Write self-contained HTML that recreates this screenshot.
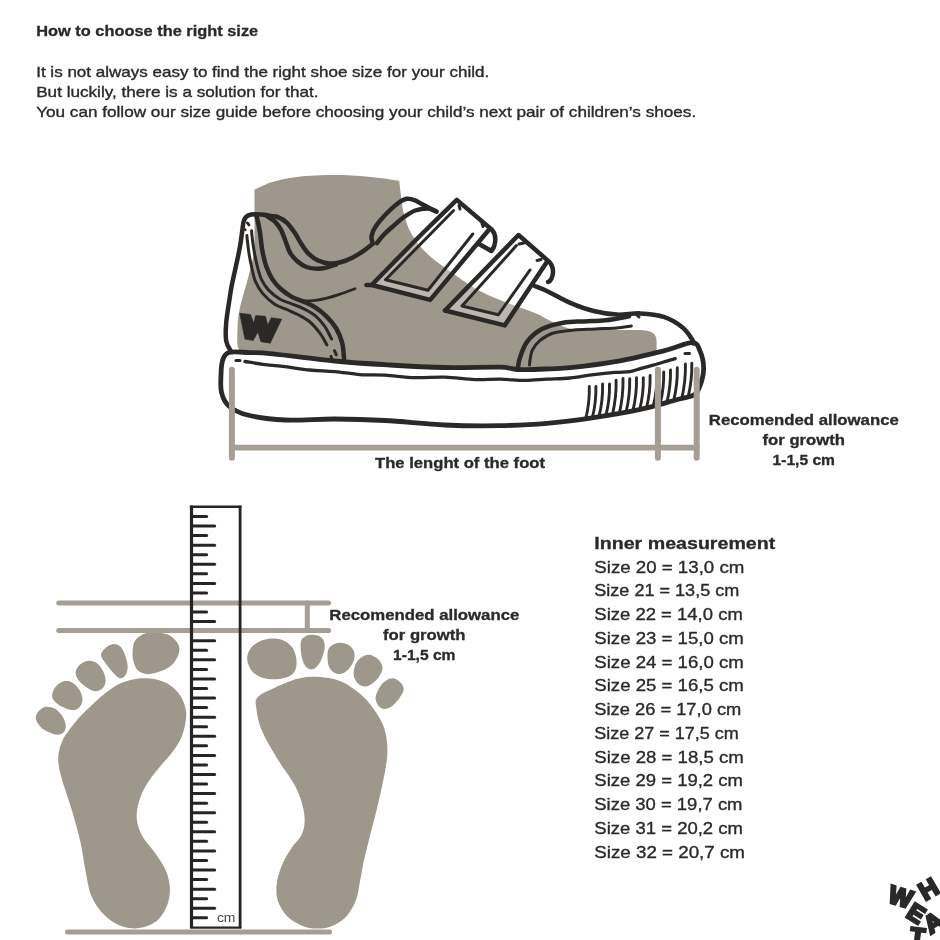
<!DOCTYPE html>
<html><head><meta charset="utf-8"><title>How to choose the right size</title>
<style>
html,body{margin:0;padding:0;background:#fff;}
body{width:940px;height:940px;overflow:hidden;font-family:"Liberation Sans",sans-serif;}
svg{display:block;position:absolute;left:0;top:0;font-family:"Liberation Sans",sans-serif;}
</style></head><body>
<svg width="940" height="940" viewBox="0 0 940 940">
<rect width="940" height="940" fill="#fff"/>
<g id="shoe">
<path d="M254.5,246 L254.5,189.6 C256.0,188.9 260.0,186.8 263.4,185.4C266.8,184.0 269.2,182.6 275.1,181.2C281.0,179.8 288.7,177.7 298.5,176.7C308.3,175.7 322.0,175.1 333.7,175.1C345.4,175.1 357.9,175.8 368.8,176.7C379.7,177.6 394.1,180.0 399.2,180.7 L399.6,184 C399.9,186.7 400.9,195.0 401.6,200.0C402.3,205.0 402.3,208.7 403.9,214.2C405.5,219.7 407.5,226.7 411.0,232.9C414.5,239.1 419.2,245.7 425.0,251.6C430.8,257.5 437.0,262.0 446.0,268.5C455.0,275.0 468.5,284.7 479.0,290.5C489.5,296.3 499.7,299.8 509.0,303.5C518.3,307.2 527.7,309.9 535.0,313.0C542.3,316.1 546.8,319.3 553.0,322.0C559.2,324.7 564.2,327.7 572.0,329.0C579.8,330.3 588.7,329.8 600.0,330.0C611.3,330.2 633.3,330.0 640.0,330.0 Q656.6,330 656.6,341 L656.6,352 C650.0,353.6 631.4,358.7 617.0,361.3C602.6,363.9 586.6,366.2 570.2,367.6C553.8,369.0 532.9,369.6 518.7,369.6C504.5,369.6 497.3,367.9 485.0,367.5C472.7,367.1 468.3,368.2 445.0,367.0C421.7,365.8 371.7,362.0 345.0,360.0C318.3,358.0 302.5,356.5 285.0,355.0C267.5,353.5 247.5,351.7 240.0,351.0C239.6,350.0 237.9,348.5 237.5,345.0C237.1,341.5 237.2,335.8 237.5,330.0C237.8,324.2 237.8,318.3 239.5,310.0C241.2,301.7 245.3,288.3 247.5,280.0C249.7,271.7 251.3,265.7 252.5,260.0C253.7,254.3 254.2,248.3 254.5,246.0Z" fill="#9e978b"/>
<path d="M228.8,352.5C233.3,351.1 242.7,352.4 250.0,352.6C257.3,352.8 258.3,352.4 272.5,353.8C286.7,355.1 315.4,359.1 335.0,361.0C354.6,362.9 371.7,363.9 390.0,365.0C408.3,366.1 426.7,367.1 445.0,367.5C463.3,367.9 487.7,366.8 500.0,367.2C512.3,367.6 511.2,369.3 518.7,369.6C526.2,369.9 536.4,369.3 545.0,369.0C553.6,368.7 558.2,368.9 570.2,367.6C582.2,366.3 601.4,364.1 617.0,361.3C632.6,358.5 651.3,353.9 663.8,350.8C676.3,347.7 685.9,342.7 691.9,342.7C697.9,342.7 698.0,346.4 700.0,350.9C702.0,355.4 703.8,363.4 703.6,369.6C703.4,375.8 700.8,384.0 699.0,388.3C697.2,392.6 696.9,393.4 693.0,395.3C689.1,397.2 684.3,397.6 675.5,400.0C666.7,402.4 654.0,406.5 640.4,409.4C626.8,412.3 609.2,415.3 593.6,417.6C578.0,419.9 562.4,422.0 546.8,423.4C531.2,424.8 517.0,425.4 500.0,425.7C483.0,426.0 464.2,425.9 445.0,425.0C425.8,424.1 403.3,421.5 385.0,420.5C366.7,419.5 351.7,419.1 335.0,419.0C318.3,418.9 299.6,420.7 285.0,420.0C270.4,419.3 256.9,417.3 247.5,415.0C238.1,412.7 233.1,409.8 228.8,406.0C224.4,402.2 222.8,397.7 221.5,392.5C220.2,387.3 220.8,380.2 221.0,375.0C221.2,369.8 221.2,364.8 222.5,361.0C223.8,357.2 224.2,353.9 228.8,352.5Z" fill="#fff" stroke="#2b2928" stroke-width="4.8" stroke-linejoin="round"/>
<path d="M245.0,361.5C248.3,362.0 258.3,363.8 265.0,364.6C271.7,365.5 277.5,365.7 285.0,366.6C292.5,367.5 301.7,369.2 310.0,370.0C318.3,370.8 326.7,370.8 335.0,371.6C343.3,372.4 351.7,374.0 360.0,374.6C368.3,375.2 375.8,374.7 385.0,375.2C394.2,375.7 405.0,377.3 415.0,377.6C425.0,377.9 435.0,376.9 445.0,377.2C455.0,377.5 465.8,379.3 475.0,379.6C484.2,379.9 491.7,379.1 500.0,379.2C508.3,379.3 517.2,380.4 525.0,380.4C532.8,380.4 539.3,379.6 546.8,379.2C554.3,378.8 562.2,378.8 570.0,378.0C577.8,377.2 586.1,375.5 593.6,374.6C601.1,373.7 608.9,372.9 615.0,372.4C621.1,371.9 625.8,372.2 630.0,371.6C634.2,371.0 636.5,369.7 640.3,368.6C644.1,367.5 648.7,366.4 653.0,365.2C657.3,364.0 662.2,362.5 665.9,361.4C669.6,360.3 673.7,359.1 675.2,358.6" fill="none" stroke="#2b2928" stroke-width="3.3" stroke-linecap="round" stroke-linejoin="round" />
<path d="M236,360.6L240,360.6" fill="none" stroke="#2b2928" stroke-width="3" stroke-linecap="round" stroke-linejoin="round" />
<path d="M685,353.6L689.5,353.4" fill="none" stroke="#2b2928" stroke-width="3" stroke-linecap="round" stroke-linejoin="round" />
<path d="M589.3,386.4 Q589.7,402.6 585.7,418.9" fill="none" stroke="#2b2928" stroke-width="2.9" stroke-linecap="round" stroke-linejoin="round" />
<path d="M595.9,386.4 Q596.3,402.1 592.3,417.8" fill="none" stroke="#2b2928" stroke-width="2.9" stroke-linecap="round" stroke-linejoin="round" />
<path d="M602.6,384.0 Q603.0,400.3 599.0,416.7" fill="none" stroke="#2b2928" stroke-width="2.9" stroke-linecap="round" stroke-linejoin="round" />
<path d="M609.5,384.0 Q609.9,399.7 605.9,415.4" fill="none" stroke="#2b2928" stroke-width="2.9" stroke-linecap="round" stroke-linejoin="round" />
<path d="M616.1,380.3 Q616.5,397.3 612.5,414.3" fill="none" stroke="#2b2928" stroke-width="2.9" stroke-linecap="round" stroke-linejoin="round" />
<path d="M623.0,378.4 Q623.4,395.7 619.4,413.1" fill="none" stroke="#2b2928" stroke-width="2.9" stroke-linecap="round" stroke-linejoin="round" />
<path d="M629.7,378.6 Q630.1,395.3 626.1,411.9" fill="none" stroke="#2b2928" stroke-width="2.9" stroke-linecap="round" stroke-linejoin="round" />
<path d="M636.5,377.6 Q636.9,394.2 632.9,410.7" fill="none" stroke="#2b2928" stroke-width="2.9" stroke-linecap="round" stroke-linejoin="round" />
<path d="M643.3,377.6 Q643.7,393.6 639.7,409.5" fill="none" stroke="#2b2928" stroke-width="2.9" stroke-linecap="round" stroke-linejoin="round" />
<path d="M650.1,375.4 Q650.5,391.6 646.5,407.8" fill="none" stroke="#2b2928" stroke-width="2.9" stroke-linecap="round" stroke-linejoin="round" />
<path d="M656.9,373.8 Q657.3,389.9 653.3,405.9" fill="none" stroke="#2b2928" stroke-width="2.9" stroke-linecap="round" stroke-linejoin="round" />
<path d="M663.7,372.0 Q664.1,388.1 660.1,404.1" fill="none" stroke="#2b2928" stroke-width="2.9" stroke-linecap="round" stroke-linejoin="round" />
<path d="M670.5,369.9 Q670.9,386.1 666.9,402.3" fill="none" stroke="#2b2928" stroke-width="2.9" stroke-linecap="round" stroke-linejoin="round" />
<path d="M677.3,367.8 Q677.7,384.1 673.7,400.5" fill="none" stroke="#2b2928" stroke-width="2.9" stroke-linecap="round" stroke-linejoin="round" />
<path d="M685.4,363.9 Q685.8,381.1 681.8,398.3" fill="none" stroke="#2b2928" stroke-width="2.9" stroke-linecap="round" stroke-linejoin="round" />
<path d="M691.8,363.1 Q692.2,379.8 688.2,396.6" fill="none" stroke="#2b2928" stroke-width="2.9" stroke-linecap="round" stroke-linejoin="round" />
<path d="M231.9,369.8 L231.9,457.7" fill="none" stroke="#a49e95" stroke-width="6.0" stroke-linecap="round" stroke-linejoin="round" />
<path d="M657.9,369.8 L657.9,457.7" fill="none" stroke="#a49e95" stroke-width="6.0" stroke-linecap="round" stroke-linejoin="round" />
<path d="M696.7,369.8 L696.7,457.7" fill="none" stroke="#a49e95" stroke-width="6.0" stroke-linecap="round" stroke-linejoin="round" />
<path d="M231.9,447.6 L696.7,447.6" fill="none" stroke="#a49e95" stroke-width="5.8" stroke-linecap="round" stroke-linejoin="round" />
<path d="M231.0,351.5C230.2,349.8 227.0,345.8 226.2,341.0C225.4,336.2 225.6,330.5 226.2,323.0C226.8,315.5 229.1,302.3 230.0,296.0C230.9,289.7 230.8,290.2 231.8,285.0C232.9,279.8 234.9,271.1 236.3,264.6C237.7,258.1 239.1,251.6 240.1,245.9C241.1,240.2 241.7,234.5 242.3,230.5C242.9,226.5 242.9,224.3 243.5,222.0C244.1,219.7 244.8,218.2 246.1,216.9C247.4,215.6 248.5,214.8 251.2,214.4C253.9,214.0 258.8,214.3 262.3,214.6C265.9,214.9 270.8,216.0 272.5,216.3" fill="none" stroke="#2b2928" stroke-width="4.5" stroke-linecap="round" stroke-linejoin="round" />
<path d="M272.5,216.3C273.3,216.4 275.0,215.9 277.4,216.9C279.8,217.9 283.8,219.9 286.7,222.6C289.6,225.3 292.4,229.4 294.9,233.1C297.4,236.8 299.5,241.3 301.9,244.8C304.2,248.3 306.3,251.6 309.0,254.2C311.7,256.8 315.0,259.1 318.3,260.6C321.6,262.2 325.2,263.2 328.9,263.5C332.6,263.8 336.7,263.3 340.6,262.3C344.5,261.3 348.4,259.6 352.3,257.7C356.2,255.8 360.6,252.9 364.0,250.6C367.4,248.3 371.3,244.9 372.8,243.8" fill="none" stroke="#2b2928" stroke-width="4.5" stroke-linecap="round" stroke-linejoin="round" />
<path d="M266.0,215.2C266.7,215.7 268.5,217.1 270.0,218.2C271.5,219.3 273.2,219.7 275.0,221.6C276.8,223.5 279.1,226.3 280.9,229.6C282.7,232.9 284.1,237.4 285.6,241.3C287.2,245.2 288.2,249.7 290.2,253.0C292.1,256.3 294.6,258.9 297.3,261.2C300.0,263.5 303.3,265.7 306.6,267.0C309.9,268.3 313.9,268.7 317.2,268.8C320.5,268.9 323.4,268.3 326.5,267.6C329.6,266.9 334.4,265.0 336.0,264.5" fill="none" stroke="#2b2928" stroke-width="4.5" stroke-linecap="round" stroke-linejoin="round" />
<path d="M255.5,214.5C255.7,214.8 256.0,213.7 256.7,216.6C257.4,219.5 258.9,226.2 259.9,231.9C260.8,237.6 261.3,245.2 262.4,251.0C263.5,256.9 264.8,262.3 266.5,267.0C268.2,271.7 270.2,275.8 272.5,279.4C274.8,283.0 277.1,285.6 280.3,288.5C283.5,291.4 287.9,294.7 291.8,296.9C295.7,299.1 299.6,299.9 303.5,301.6C307.4,303.4 311.3,304.9 315.2,307.4C319.1,309.9 323.4,313.3 326.9,316.8C330.4,320.3 333.8,324.2 336.3,328.5C338.8,332.8 340.8,337.9 342.1,342.6C343.4,347.3 343.6,353.9 343.9,356.6C344.2,359.3 344.0,358.6 344.0,359.0" fill="none" stroke="#2b2928" stroke-width="4.5" stroke-linecap="round" stroke-linejoin="round" />
<path d="M246.9,235.5C247.0,236.2 247.0,237.0 247.3,240.0C247.7,243.0 248.2,248.5 249.0,253.6C249.8,258.7 251.3,265.8 252.4,270.5C253.5,275.2 253.8,277.9 255.5,281.7C257.2,285.5 259.5,289.7 262.6,293.4C265.7,297.1 270.4,301.3 274.3,303.9C278.2,306.5 282.1,307.4 286.0,309.2C289.9,311.0 293.8,312.4 297.7,314.5C301.6,316.6 305.7,318.4 309.4,321.5C313.1,324.6 317.0,329.3 319.9,333.2C322.8,337.1 325.7,342.9 326.9,344.9" fill="none" stroke="#2b2928" stroke-width="3.0" stroke-linecap="round" stroke-linejoin="round" />
<path d="M251.6,230.8C251.7,231.5 251.5,231.6 251.9,235.0C252.3,238.4 253.1,245.3 254.1,251.0C255.1,256.7 256.8,264.3 258.0,269.0C259.2,273.7 259.7,275.9 261.4,279.4C263.1,282.9 265.3,286.6 268.4,289.9C271.5,293.2 276.2,297.0 280.1,299.3C284.0,301.6 287.9,302.3 291.8,303.9C295.7,305.4 299.6,306.7 303.5,308.6C307.4,310.6 311.7,312.7 315.2,315.6C318.7,318.5 321.9,322.3 324.6,326.2C327.3,330.1 330.4,336.9 331.6,339.0" fill="none" stroke="#2b2928" stroke-width="3.0" stroke-linecap="round" stroke-linejoin="round" />
<path d="M334.5,350.7 L336.3,354.8" fill="none" stroke="#2b2928" stroke-width="3.0" stroke-linecap="round" stroke-linejoin="round" />
<path d="M331,356.4 L331.6,358" fill="none" stroke="#2b2928" stroke-width="3.0" stroke-linecap="round" stroke-linejoin="round" />
<path d="M247.4,222.9 L249,225" fill="none" stroke="#2b2928" stroke-width="2.8" stroke-linecap="round" stroke-linejoin="round" />
<path d="M245.3,229.6 L245.4,229.9" fill="none" stroke="#2b2928" stroke-width="2.4" stroke-linecap="round" stroke-linejoin="round" />
<path d="M303.5,301.0C305.4,300.9 311.3,300.9 315.2,300.4C319.1,299.9 323.0,299.1 326.9,298.1C330.8,297.1 333.9,296.2 338.6,294.6C343.3,293.0 352.3,289.7 355.0,288.7" fill="none" stroke="#2b2928" stroke-width="2.8" stroke-linecap="round" stroke-linejoin="round" />
<path d="M372.8,243.5C372.6,242.2 371.0,238.9 371.5,236.0C372.0,233.1 373.4,229.8 376.0,226.0C378.6,222.2 383.3,216.8 387.0,213.0C390.7,209.2 395.0,205.4 398.3,203.0C401.6,200.6 404.0,199.2 406.8,198.8C409.6,198.4 412.5,199.4 415.0,200.3C417.5,201.2 418.1,202.1 421.7,204.0C425.3,205.9 434.1,210.3 436.6,211.6" fill="none" stroke="#2b2928" stroke-width="4.5" stroke-linecap="round" stroke-linejoin="round" />
<path d="M377.0,243.0C378.2,241.6 381.2,237.4 384.0,234.5C386.8,231.6 390.7,228.3 394.0,225.4C397.3,222.5 400.4,219.5 404.0,217.0C407.6,214.5 411.3,211.9 415.3,210.5C419.3,209.1 424.6,208.3 428.0,208.4C431.4,208.5 434.7,210.8 436.0,211.3" fill="none" stroke="#2b2928" stroke-width="4.5" stroke-linecap="round" stroke-linejoin="round" />
<path d="M371.7,285 L455,203 L453.6,210.5 L385.5,279.7 L428,290.3 L472.8,234 L486,233 L430.2,299.9 Z" fill="#fff" fill-opacity="0.3"/>
<path d="M445,310.5 L517,238 L516.4,245.6 L462,306 L498.3,314.8 L530,270 L545,266 L504.7,325.4 Z" fill="#fff" fill-opacity="0.3"/>
<path d="M366.4,285 L371.7,285 C376.4,280.2 390.3,265.8 400.0,256.0C409.7,246.2 420.5,235.3 430.0,226.0C439.5,216.7 452.3,204.2 456.8,199.9 L491.9,229.7 Q497.5,236 494,246.7 Q492.5,250 490.5,250.5" fill="none" stroke="#2b2928" stroke-width="4.5" stroke-linecap="round" stroke-linejoin="round" />
<path d="M488.5,230.3 L430.2,299.9 L371.7,285" fill="none" stroke="#2b2928" stroke-width="4.5" stroke-linecap="round" stroke-linejoin="round" />
<path d="M478,243.5 L491.5,251" fill="none" stroke="#2b2928" stroke-width="4.5" stroke-linecap="round" stroke-linejoin="round" />
<path d="M453.6,210.5 L385.5,279.7 L428,290.3 L472.8,234" fill="none" stroke="#2b2928" stroke-width="3.0" stroke-linecap="round" stroke-linejoin="round" />
<path d="M459,205.5 L460,209" fill="none" stroke="#2b2928" stroke-width="3.0" stroke-linecap="round" stroke-linejoin="round" />
<path d="M482,223.5 L483,226.5" fill="none" stroke="#2b2928" stroke-width="3.0" stroke-linecap="round" stroke-linejoin="round" />
<path d="M445,310.5 L518.5,235 L549,261.6 Q555.5,269 551.5,278.6 Q550,281.5 548,282" fill="none" stroke="#2b2928" stroke-width="4.5" stroke-linecap="round" stroke-linejoin="round" />
<path d="M546.5,262.5 L504.7,325.4 L445,310.5" fill="none" stroke="#2b2928" stroke-width="4.5" stroke-linecap="round" stroke-linejoin="round" />
<path d="M516.4,245.6 L462,306 L498.3,314.8 L530,270" fill="none" stroke="#2b2928" stroke-width="3.0" stroke-linecap="round" stroke-linejoin="round" />
<path d="M519,244 L524,243" fill="none" stroke="#2b2928" stroke-width="3.0" stroke-linecap="round" stroke-linejoin="round" />
<path d="M537,260.5 L541,259.5" fill="none" stroke="#2b2928" stroke-width="3.0" stroke-linecap="round" stroke-linejoin="round" />
<path d="M534.5,286.0C536.5,286.8 540.8,288.2 546.8,291.0C552.8,293.8 562.4,299.6 570.2,302.9C578.0,306.2 585.8,309.1 593.6,311.0C601.4,312.9 609.2,314.2 617.0,314.6C624.8,315.0 632.6,313.0 640.4,313.4C648.2,313.8 656.8,314.6 663.8,316.9C670.8,319.2 677.9,323.7 682.6,327.4C687.3,331.1 690.1,336.4 691.9,339.1C693.7,341.8 693.2,342.8 693.5,343.5" fill="none" stroke="#2b2928" stroke-width="4.5" stroke-linecap="round" stroke-linejoin="round" />
<path d="M517.8,369.5C518.1,367.7 518.1,363.4 519.6,358.8C521.1,354.2 523.3,346.8 527.0,341.8C530.7,336.8 535.9,332.2 541.9,329.0C547.9,325.8 556.1,324.0 563.2,322.7C570.3,321.4 577.4,321.8 584.5,321.4C591.6,321.0 598.3,321.1 605.7,320.3C613.1,319.5 625.2,317.0 629.1,316.3" fill="none" stroke="#2b2928" stroke-width="4.5" stroke-linecap="round" stroke-linejoin="round" />
<path d="M529.5,365.0C529.6,364.0 529.7,361.2 530.2,358.8C530.7,356.4 530.7,353.3 532.3,350.3C533.9,347.3 536.4,343.5 539.8,340.7C543.2,337.9 546.9,335.1 552.6,333.3C558.3,331.5 566.7,330.8 573.8,330.1C580.9,329.4 588.0,329.4 595.1,329.0C602.2,328.6 610.4,328.5 616.4,328.0C622.4,327.5 628.8,326.2 631.3,325.9" fill="none" stroke="#2b2928" stroke-width="3.0" stroke-linecap="round" stroke-linejoin="round" />
<path d="M636,314 L639,317" fill="none" stroke="#2b2928" stroke-width="3.0" stroke-linecap="round" stroke-linejoin="round" />
<path d="M239.7,313.3L250.5,314.5L253.7,323.1L255.7,315.6L265.4,316.2L267.8,324.9L271.3,317.7L281.7,319.2L270.2,343.2L260.9,341.7L257.9,332.0L253.1,340.6L244.9,339.1Z" fill="#2b2928" stroke="#2b2928" stroke-width="0.6" stroke-linejoin="round"/>
</g>
<g id="feet">
<path d="M247.2,659.4C246.9,655.8 248.1,652.3 249.9,649.4C251.7,646.5 254.6,644.0 258.1,642.2C261.6,640.4 266.5,638.9 270.7,638.6C274.9,638.3 279.8,638.9 283.4,640.4C287.0,641.9 290.2,644.4 292.4,647.6C294.6,650.8 295.9,655.6 296.4,659.4C296.9,663.2 296.5,667.4 295.2,670.2C293.9,673.1 292.0,675.0 288.8,676.5C285.6,678.0 280.7,679.1 276.2,679.2C271.7,679.4 265.8,678.8 261.7,677.4C257.6,676.0 254.2,674.1 251.8,671.1C249.4,668.1 247.5,663.0 247.2,659.4Z" fill="#9e978b"/>
<path d="M300.6,644.9C300.8,642.0 301.0,640.3 302.4,638.6C303.8,636.9 306.1,635.4 308.7,634.9C311.3,634.4 315.3,634.6 317.8,635.5C320.3,636.4 322.4,638.2 323.5,640.4C324.6,642.6 325.0,645.3 324.6,648.5C324.2,651.7 322.8,656.2 321.4,659.4C319.9,662.6 317.7,665.9 315.9,667.5C314.1,669.1 312.3,669.6 310.5,669.3C308.7,669.0 306.6,668.0 305.1,665.7C303.6,663.4 302.2,659.2 301.5,655.7C300.8,652.2 300.5,647.8 300.6,644.9Z" fill="#9e978b"/>
<path d="M327.7,652.1C328.1,648.8 329.3,647.4 331.3,645.8C333.3,644.2 336.6,642.9 339.5,642.7C342.4,642.6 346.1,643.5 348.5,644.9C350.9,646.3 353.0,648.6 353.9,651.2C354.8,653.8 354.8,657.3 353.9,660.3C353.0,663.3 350.6,667.0 348.5,669.3C346.4,671.5 343.7,673.3 341.3,673.8C338.9,674.3 336.1,673.8 334.0,672.4C331.9,671.0 329.7,669.1 328.6,665.7C327.6,662.3 327.2,655.4 327.7,652.1Z" fill="#9e978b"/>
<path d="M355.7,663.9C357.0,661.0 358.9,659.0 361.2,657.5C363.5,656.0 366.4,654.5 369.3,654.8C372.2,655.1 376.1,657.3 378.3,659.4C380.5,661.5 382.4,664.6 382.5,667.5C382.6,670.4 380.9,673.8 379.2,676.5C377.4,679.2 374.4,682.1 372.0,683.8C369.6,685.5 367.2,686.6 364.8,686.5C362.4,686.4 359.4,684.9 357.5,682.9C355.6,680.9 353.9,677.9 353.6,674.7C353.3,671.5 354.4,666.8 355.7,663.9Z" fill="#9e978b"/>
<path d="M380.1,686.5C381.9,683.6 384.2,681.6 386.5,680.2C388.8,678.8 391.3,677.8 393.7,678.3C396.1,678.8 399.2,681.1 400.9,682.9C402.6,684.7 403.8,686.8 403.7,689.2C403.6,691.6 401.8,694.6 400.0,697.3C398.2,700.0 395.4,703.5 392.8,705.5C390.2,707.5 387.1,709.1 384.7,709.1C382.3,709.1 379.8,707.5 378.3,705.5C376.8,703.5 375.3,700.5 375.6,697.3C375.9,694.1 378.3,689.4 380.1,686.5Z" fill="#9e978b"/>
<path d="M257.5,697.5C260.2,694.3 265.8,691.9 272.5,688.8C279.2,685.6 290.0,680.8 297.5,678.8C305.0,676.8 310.4,676.4 317.5,676.8C324.6,677.1 332.9,678.2 340.0,681.0C347.1,683.8 354.4,689.1 360.0,693.8C365.6,698.4 369.3,703.0 373.3,708.6C377.3,714.2 381.5,720.6 383.9,727.2C386.2,733.9 387.2,741.4 387.4,748.5C387.6,755.6 386.8,760.9 385.3,769.8C383.8,778.7 381.1,791.1 378.6,801.7C376.2,812.3 373.0,823.9 370.6,833.6C368.2,843.4 365.8,852.2 364.0,860.2C362.2,868.2 361.3,874.9 360.0,881.5C358.7,888.1 358.2,894.3 356.0,900.1C353.8,905.9 350.5,911.9 346.7,916.1C342.9,920.3 338.3,923.3 333.4,925.4C328.5,927.5 322.7,928.6 317.4,928.6C312.1,928.6 306.6,927.5 301.5,925.4C296.4,923.3 290.9,920.3 286.9,916.1C282.9,911.9 279.2,905.9 277.6,900.1C276.0,894.3 276.1,887.7 277.0,881.5C277.9,875.3 280.4,868.7 282.9,862.9C285.4,857.1 289.1,851.6 292.2,846.9C295.3,842.2 299.4,839.3 301.5,834.9C303.6,830.5 304.7,825.8 304.7,820.3C304.7,814.8 303.4,807.9 301.5,801.7C299.6,795.5 297.5,790.2 293.5,783.1C289.5,776.0 282.9,768.0 277.6,759.1C272.3,750.2 265.2,738.4 261.6,729.9C258.1,721.4 257.0,713.4 256.3,708.0C255.6,702.6 254.8,700.7 257.5,697.5Z" fill="#9e978b"/>
<path d="M132.6,652.5C132.8,649.2 132.8,644.7 134.4,641.7C136.1,638.7 139.0,636.1 142.5,634.5C146.0,632.9 150.7,632.1 155.2,632.3C159.7,632.4 165.9,633.5 169.7,635.4C173.5,637.3 176.2,640.6 177.8,643.5C179.4,646.4 179.8,649.2 179.1,652.5C178.3,655.8 176.1,660.4 173.3,663.4C170.5,666.4 166.6,668.8 162.4,670.6C158.2,672.4 152.1,674.2 148.0,674.2C143.9,674.2 140.4,672.7 138.0,670.6C135.6,668.5 134.4,664.6 133.5,661.6C132.6,658.6 132.4,655.8 132.6,652.5Z" fill="#9e978b"/>
<path d="M100.9,655.3C100.8,652.6 103.4,649.9 105.5,648.0C107.6,646.1 111.0,644.2 113.6,644.1C116.1,644.0 118.8,645.1 120.8,647.1C122.8,649.1 124.2,652.9 125.4,656.2C126.6,659.5 127.7,663.8 127.7,667.0C127.7,670.2 126.7,673.3 125.4,675.2C124.1,677.1 121.9,678.5 119.9,678.2C117.9,677.9 115.8,675.6 113.6,673.3C111.3,671.0 108.5,667.3 106.4,664.3C104.3,661.3 101.1,658.0 100.9,655.3Z" fill="#9e978b"/>
<path d="M75.6,672.4C75.8,670.0 77.1,667.2 79.2,665.2C81.3,663.2 85.3,661.0 88.3,660.7C91.3,660.4 94.7,661.5 97.3,663.4C99.9,665.3 102.3,669.2 103.7,672.4C105.1,675.6 106.0,679.5 105.5,682.4C105.0,685.3 102.9,688.2 100.9,689.6C98.9,691.0 96.4,691.5 93.7,690.9C91.0,690.3 87.3,687.9 84.7,686.0C82.1,684.1 79.8,682.0 78.3,679.7C76.8,677.4 75.4,674.8 75.6,672.4Z" fill="#9e978b"/>
<path d="M52.1,696.0C52.1,693.7 53.0,690.2 54.8,687.8C56.6,685.4 60.1,682.4 63.0,681.5C65.9,680.6 69.3,681.0 72.0,682.4C74.7,683.8 77.5,686.7 79.2,689.6C81.0,692.5 82.5,696.6 82.5,699.6C82.5,702.6 81.0,706.0 79.2,707.7C77.5,709.5 74.8,710.2 72.0,710.1C69.2,710.0 65.0,708.2 62.1,706.8C59.2,705.3 56.5,703.2 54.8,701.4C53.1,699.6 52.1,698.3 52.1,696.0Z" fill="#9e978b"/>
<path d="M35.8,718.6C35.5,716.0 36.9,713.3 38.6,711.3C40.3,709.3 43.1,707.2 45.8,706.8C48.5,706.3 52.1,707.1 54.8,708.6C57.5,710.1 60.3,713.1 62.1,715.8C63.9,718.5 65.4,722.2 65.7,724.9C66.0,727.6 65.3,730.5 63.9,732.1C62.5,733.8 60.1,734.8 57.5,734.8C54.9,734.8 51.4,733.5 48.5,732.1C45.6,730.8 42.5,729.0 40.4,726.7C38.3,724.5 36.1,721.2 35.8,718.6Z" fill="#9e978b"/>
<path d="M59.5,749.0C60.4,745.1 62.0,741.5 63.5,738.5C65.0,735.5 65.8,734.7 68.4,731.2C71.0,727.7 75.3,722.0 79.2,717.6C83.1,713.2 87.4,709.2 91.9,705.0C96.4,700.8 101.6,695.9 106.4,692.3C111.2,688.7 115.7,685.5 120.8,683.3C125.9,681.0 131.4,679.5 137.1,678.8C142.8,678.1 149.8,678.2 155.2,679.3C160.6,680.3 165.5,682.3 169.7,685.1C173.9,687.9 177.8,691.7 180.5,695.9C183.2,700.1 185.2,705.6 185.9,710.4C186.7,715.2 185.9,720.1 185.0,724.9C184.1,729.7 182.7,734.6 180.5,739.3C178.3,743.9 175.5,748.1 171.9,752.8C168.3,757.5 163.3,762.4 159.1,767.7C154.8,773.0 149.8,779.0 146.4,784.7C143.0,790.4 140.5,796.0 138.9,801.7C137.3,807.4 136.3,813.0 136.8,818.7C137.3,824.4 139.1,830.0 142.1,835.7C145.1,841.4 151.0,847.1 154.9,852.8C158.8,858.5 163.0,864.1 165.5,869.8C168.0,875.5 169.4,881.1 169.8,886.8C170.2,892.5 169.5,898.5 167.7,903.8C165.9,909.1 162.6,915.0 159.1,918.7C155.6,922.4 151.0,924.6 146.4,926.2C141.8,927.8 136.5,928.7 131.5,928.3C126.5,927.9 121.6,926.7 116.6,924.0C111.6,921.3 106.0,917.1 101.7,912.3C97.5,907.5 93.8,902.0 91.1,895.3C88.4,888.6 87.5,880.8 85.7,871.9C83.9,863.0 82.7,852.4 80.4,842.1C78.1,831.8 74.9,820.5 71.9,810.2C68.9,799.9 64.6,788.4 62.3,780.4C60.0,772.4 58.8,767.2 58.3,762.0C57.8,756.8 58.6,752.9 59.5,749.0Z" fill="#9e978b"/>
<path d="M193,516.50 L206.6,516.50" fill="none" stroke="#262424" stroke-width="3.0" stroke-linecap="round" stroke-linejoin="round" />
<path d="M193,526.05 L214.6,526.05" fill="none" stroke="#262424" stroke-width="3.0" stroke-linecap="round" stroke-linejoin="round" />
<path d="M193,535.61 L206.6,535.61" fill="none" stroke="#262424" stroke-width="3.0" stroke-linecap="round" stroke-linejoin="round" />
<path d="M193,545.16 L214.6,545.16" fill="none" stroke="#262424" stroke-width="3.0" stroke-linecap="round" stroke-linejoin="round" />
<path d="M193,554.72 L206.6,554.72" fill="none" stroke="#262424" stroke-width="3.0" stroke-linecap="round" stroke-linejoin="round" />
<path d="M193,564.27 L214.6,564.27" fill="none" stroke="#262424" stroke-width="3.0" stroke-linecap="round" stroke-linejoin="round" />
<path d="M193,573.83 L206.6,573.83" fill="none" stroke="#262424" stroke-width="3.0" stroke-linecap="round" stroke-linejoin="round" />
<path d="M193,583.38 L214.6,583.38" fill="none" stroke="#262424" stroke-width="3.0" stroke-linecap="round" stroke-linejoin="round" />
<path d="M193,592.94 L206.6,592.94" fill="none" stroke="#262424" stroke-width="3.0" stroke-linecap="round" stroke-linejoin="round" />
<path d="M193,602.50 L214.6,602.50" fill="none" stroke="#262424" stroke-width="3.0" stroke-linecap="round" stroke-linejoin="round" />
<path d="M193,612.05 L206.6,612.05" fill="none" stroke="#262424" stroke-width="3.0" stroke-linecap="round" stroke-linejoin="round" />
<path d="M193,621.61 L214.6,621.61" fill="none" stroke="#262424" stroke-width="3.0" stroke-linecap="round" stroke-linejoin="round" />
<path d="M193,631.16 L206.6,631.16" fill="none" stroke="#262424" stroke-width="3.0" stroke-linecap="round" stroke-linejoin="round" />
<path d="M193,640.72 L214.6,640.72" fill="none" stroke="#262424" stroke-width="3.0" stroke-linecap="round" stroke-linejoin="round" />
<path d="M193,650.27 L206.6,650.27" fill="none" stroke="#262424" stroke-width="3.0" stroke-linecap="round" stroke-linejoin="round" />
<path d="M193,659.83 L214.6,659.83" fill="none" stroke="#262424" stroke-width="3.0" stroke-linecap="round" stroke-linejoin="round" />
<path d="M193,669.38 L206.6,669.38" fill="none" stroke="#262424" stroke-width="3.0" stroke-linecap="round" stroke-linejoin="round" />
<path d="M193,678.93 L214.6,678.93" fill="none" stroke="#262424" stroke-width="3.0" stroke-linecap="round" stroke-linejoin="round" />
<path d="M193,688.49 L206.6,688.49" fill="none" stroke="#262424" stroke-width="3.0" stroke-linecap="round" stroke-linejoin="round" />
<path d="M193,698.04 L214.6,698.04" fill="none" stroke="#262424" stroke-width="3.0" stroke-linecap="round" stroke-linejoin="round" />
<path d="M193,707.60 L206.6,707.60" fill="none" stroke="#262424" stroke-width="3.0" stroke-linecap="round" stroke-linejoin="round" />
<path d="M193,717.15 L214.6,717.15" fill="none" stroke="#262424" stroke-width="3.0" stroke-linecap="round" stroke-linejoin="round" />
<path d="M193,726.71 L206.6,726.71" fill="none" stroke="#262424" stroke-width="3.0" stroke-linecap="round" stroke-linejoin="round" />
<path d="M193,736.26 L214.6,736.26" fill="none" stroke="#262424" stroke-width="3.0" stroke-linecap="round" stroke-linejoin="round" />
<path d="M193,745.82 L206.6,745.82" fill="none" stroke="#262424" stroke-width="3.0" stroke-linecap="round" stroke-linejoin="round" />
<path d="M193,755.38 L214.6,755.38" fill="none" stroke="#262424" stroke-width="3.0" stroke-linecap="round" stroke-linejoin="round" />
<path d="M193,764.93 L206.6,764.93" fill="none" stroke="#262424" stroke-width="3.0" stroke-linecap="round" stroke-linejoin="round" />
<path d="M193,774.49 L214.6,774.49" fill="none" stroke="#262424" stroke-width="3.0" stroke-linecap="round" stroke-linejoin="round" />
<path d="M193,784.04 L206.6,784.04" fill="none" stroke="#262424" stroke-width="3.0" stroke-linecap="round" stroke-linejoin="round" />
<path d="M193,793.60 L214.6,793.60" fill="none" stroke="#262424" stroke-width="3.0" stroke-linecap="round" stroke-linejoin="round" />
<path d="M193,803.15 L206.6,803.15" fill="none" stroke="#262424" stroke-width="3.0" stroke-linecap="round" stroke-linejoin="round" />
<path d="M193,812.70 L214.6,812.70" fill="none" stroke="#262424" stroke-width="3.0" stroke-linecap="round" stroke-linejoin="round" />
<path d="M193,822.26 L206.6,822.26" fill="none" stroke="#262424" stroke-width="3.0" stroke-linecap="round" stroke-linejoin="round" />
<path d="M193,831.82 L214.6,831.82" fill="none" stroke="#262424" stroke-width="3.0" stroke-linecap="round" stroke-linejoin="round" />
<path d="M193,841.37 L206.6,841.37" fill="none" stroke="#262424" stroke-width="3.0" stroke-linecap="round" stroke-linejoin="round" />
<path d="M193,850.92 L214.6,850.92" fill="none" stroke="#262424" stroke-width="3.0" stroke-linecap="round" stroke-linejoin="round" />
<path d="M193,860.48 L206.6,860.48" fill="none" stroke="#262424" stroke-width="3.0" stroke-linecap="round" stroke-linejoin="round" />
<path d="M193,870.03 L214.6,870.03" fill="none" stroke="#262424" stroke-width="3.0" stroke-linecap="round" stroke-linejoin="round" />
<path d="M193,879.59 L206.6,879.59" fill="none" stroke="#262424" stroke-width="3.0" stroke-linecap="round" stroke-linejoin="round" />
<path d="M193,889.14 L214.6,889.14" fill="none" stroke="#262424" stroke-width="3.0" stroke-linecap="round" stroke-linejoin="round" />
<path d="M193,898.70 L206.6,898.70" fill="none" stroke="#262424" stroke-width="3.0" stroke-linecap="round" stroke-linejoin="round" />
<path d="M193,908.25 L214.6,908.25" fill="none" stroke="#262424" stroke-width="3.0" stroke-linecap="round" stroke-linejoin="round" />
<path d="M193,917.81 L206.6,917.81" fill="none" stroke="#262424" stroke-width="3.0" stroke-linecap="round" stroke-linejoin="round" />
<path d="M58.7,602.9 L328.6,602.9" fill="none" stroke="#a49e95" stroke-width="5.0" stroke-linecap="round" stroke-linejoin="round" />
<path d="M58.7,630.6 L328.6,630.6" fill="none" stroke="#a49e95" stroke-width="5.0" stroke-linecap="round" stroke-linejoin="round" />
<path d="M307.3,603 L307.3,630.6" fill="none" stroke="#a49e95" stroke-width="5.0" stroke-linecap="round" stroke-linejoin="round" />
<path d="M67.5,932.1 L329.6,932.1" fill="none" stroke="#a49e95" stroke-width="5.0" stroke-linecap="round" stroke-linejoin="round" />
<path d="M191.5,928 L191.5,505.6" fill="none" stroke="#262424" stroke-width="3.2"/>
<path d="M240.1,928 L240.1,505.6" fill="none" stroke="#262424" stroke-width="2.8"/>
<path d="M189.9,506.8 L241.4,506.8" fill="none" stroke="#262424" stroke-width="2.5"/>
<path d="M190.2,927.6 L241.4,927.6" fill="none" stroke="#262424" stroke-width="2.4"/>
</g>
<g id="text" style="filter:grayscale(1)">
<text x="36.2" y="36.2" font-size="14.8" font-weight="bold" textLength="222.0" lengthAdjust="spacingAndGlyphs" text-anchor="start" fill="#2a2a2a" stroke="#2a2a2a" stroke-width="0.3">How to choose the right size</text>
<text x="36.2" y="76.7" font-size="14.8"  textLength="453.0" lengthAdjust="spacingAndGlyphs" text-anchor="start" fill="#2a2a2a" stroke="#2a2a2a" stroke-width="0.35">It is not always easy to find the right shoe size for your child.</text>
<text x="36.2" y="96.9" font-size="14.8"  textLength="282.3" lengthAdjust="spacingAndGlyphs" text-anchor="start" fill="#2a2a2a" stroke="#2a2a2a" stroke-width="0.35">But luckily, there is a solution for that.</text>
<text x="36.2" y="117.1" font-size="14.8"  textLength="660.0" lengthAdjust="spacingAndGlyphs" text-anchor="start" fill="#2a2a2a" stroke="#2a2a2a" stroke-width="0.35">You can follow our size guide before choosing your child’s next pair of children’s shoes.</text>
<text x="375.0" y="467.5" font-size="14.8" font-weight="bold" textLength="170.0" lengthAdjust="spacingAndGlyphs" text-anchor="start" fill="#2a2a2a" stroke="#2a2a2a" stroke-width="0.3">The lenght of the foot</text>
<text x="708.8" y="424.5" font-size="14.8" font-weight="bold" textLength="190.0" lengthAdjust="spacingAndGlyphs" text-anchor="start" fill="#2a2a2a" stroke="#2a2a2a" stroke-width="0.3">Recomended allowance</text>
<text x="762.5" y="444.5" font-size="14.8" font-weight="bold" textLength="82.5" lengthAdjust="spacingAndGlyphs" text-anchor="start" fill="#2a2a2a" stroke="#2a2a2a" stroke-width="0.3">for growth</text>
<text x="772.5" y="464.5" font-size="14.8" font-weight="bold" textLength="62.5" lengthAdjust="spacingAndGlyphs" text-anchor="start" fill="#2a2a2a" stroke="#2a2a2a" stroke-width="0.3">1-1,5 cm</text>
<text x="329.3" y="620.2" font-size="14.8" font-weight="bold" textLength="190.0" lengthAdjust="spacingAndGlyphs" text-anchor="start" fill="#2a2a2a" stroke="#2a2a2a" stroke-width="0.3">Recomended allowance</text>
<text x="383.0" y="640.2" font-size="14.8" font-weight="bold" textLength="82.5" lengthAdjust="spacingAndGlyphs" text-anchor="start" fill="#2a2a2a" stroke="#2a2a2a" stroke-width="0.3">for growth</text>
<text x="393.0" y="660.2" font-size="14.8" font-weight="bold" textLength="62.5" lengthAdjust="spacingAndGlyphs" text-anchor="start" fill="#2a2a2a" stroke="#2a2a2a" stroke-width="0.3">1-1,5 cm</text>
<text x="594.3" y="549.3" font-size="17.2" font-weight="bold" textLength="181.0" lengthAdjust="spacingAndGlyphs" text-anchor="start" fill="#2a2a2a" stroke="#2a2a2a" stroke-width="0.3">Inner measurement</text>
<text x="594.3" y="572.6" font-size="17.2"  textLength="150.0" lengthAdjust="spacingAndGlyphs" text-anchor="start" fill="#2a2a2a" stroke="#2a2a2a" stroke-width="0.35">Size 20 = 13,0 cm</text>
<text x="594.3" y="596.4" font-size="17.2"  textLength="145.0" lengthAdjust="spacingAndGlyphs" text-anchor="start" fill="#2a2a2a" stroke="#2a2a2a" stroke-width="0.35">Size 21 = 13,5 cm</text>
<text x="594.3" y="620.1" font-size="17.2"  textLength="148.5" lengthAdjust="spacingAndGlyphs" text-anchor="start" fill="#2a2a2a" stroke="#2a2a2a" stroke-width="0.35">Size 22 = 14,0 cm</text>
<text x="594.3" y="643.9" font-size="17.2"  textLength="149.5" lengthAdjust="spacingAndGlyphs" text-anchor="start" fill="#2a2a2a" stroke="#2a2a2a" stroke-width="0.35">Size 23 = 15,0 cm</text>
<text x="594.3" y="667.6" font-size="17.2"  textLength="149.5" lengthAdjust="spacingAndGlyphs" text-anchor="start" fill="#2a2a2a" stroke="#2a2a2a" stroke-width="0.35">Size 24 = 16,0 cm</text>
<text x="594.3" y="691.4" font-size="17.2"  textLength="149.5" lengthAdjust="spacingAndGlyphs" text-anchor="start" fill="#2a2a2a" stroke="#2a2a2a" stroke-width="0.35">Size 25 = 16,5 cm</text>
<text x="594.3" y="715.1" font-size="17.2"  textLength="147.0" lengthAdjust="spacingAndGlyphs" text-anchor="start" fill="#2a2a2a" stroke="#2a2a2a" stroke-width="0.35">Size 26 = 17,0 cm</text>
<text x="594.3" y="738.9" font-size="17.2"  textLength="144.5" lengthAdjust="spacingAndGlyphs" text-anchor="start" fill="#2a2a2a" stroke="#2a2a2a" stroke-width="0.35">Size 27 = 17,5 cm</text>
<text x="594.3" y="762.6" font-size="17.2"  textLength="149.5" lengthAdjust="spacingAndGlyphs" text-anchor="start" fill="#2a2a2a" stroke="#2a2a2a" stroke-width="0.35">Size 28 = 18,5 cm</text>
<text x="594.3" y="786.4" font-size="17.2"  textLength="148.7" lengthAdjust="spacingAndGlyphs" text-anchor="start" fill="#2a2a2a" stroke="#2a2a2a" stroke-width="0.35">Size 29 = 19,2 cm</text>
<text x="594.3" y="810.1" font-size="17.2"  textLength="148.2" lengthAdjust="spacingAndGlyphs" text-anchor="start" fill="#2a2a2a" stroke="#2a2a2a" stroke-width="0.35">Size 30 = 19,7 cm</text>
<text x="594.3" y="833.9" font-size="17.2"  textLength="148.7" lengthAdjust="spacingAndGlyphs" text-anchor="start" fill="#2a2a2a" stroke="#2a2a2a" stroke-width="0.35">Size 31 = 20,2 cm</text>
<text x="594.3" y="857.6" font-size="17.2"  textLength="150.7" lengthAdjust="spacingAndGlyphs" text-anchor="start" fill="#2a2a2a" stroke="#2a2a2a" stroke-width="0.35">Size 32 = 20,7 cm</text>
<text x="216.9" y="922.4" font-size="13.6"  textLength="18.6" lengthAdjust="spacingAndGlyphs" text-anchor="start" fill="#4a4848" stroke="#4a4848" stroke-width="0">cm</text>
</g>
<g id="logo" style="filter:grayscale(1)">
<text x="0" y="0" font-size="25" font-weight="bold" text-anchor="middle" fill="#2b2928" stroke="#2b2928" stroke-width="2.6" stroke-linejoin="miter" transform="translate(900.8 896.5) rotate(17) translate(0 9.1)">W</text>
<text x="0" y="0" font-size="25" font-weight="bold" text-anchor="middle" fill="#2b2928" stroke="#2b2928" stroke-width="2.6" stroke-linejoin="miter" transform="translate(928.3 888.5) rotate(-30) translate(0 9.1)">H</text>
<text x="0" y="0" font-size="24" font-weight="bold" text-anchor="middle" fill="#2b2928" stroke="#2b2928" stroke-width="2.6" stroke-linejoin="miter" transform="translate(916.5 913.0) rotate(32) translate(0 8.8)">E</text>
<text x="0" y="0" font-size="25" font-weight="bold" text-anchor="middle" fill="#2b2928" stroke="#2b2928" stroke-width="2.6" stroke-linejoin="miter" transform="translate(933.0 922.0) rotate(-33) translate(0 9.1)">A</text>
<text x="0" y="0" font-size="24" font-weight="bold" text-anchor="middle" fill="#2b2928" stroke="#2b2928" stroke-width="2.6" stroke-linejoin="miter" transform="translate(917.5 936.0) rotate(7) translate(0 8.8)">T</text>
</g>
</svg>
</body></html>
